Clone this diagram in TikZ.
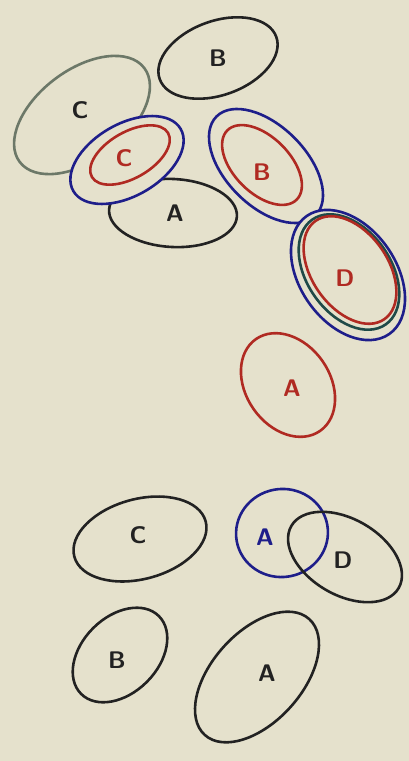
\documentclass[tikz,border=0pt]{standalone}
\usepackage{tikz}

\definecolor{paper}{HTML}{E5E1CC}
\definecolor{pencil}{HTML}{222222}
\definecolor{grayink}{HTML}{6C7868}
\definecolor{blueink}{HTML}{1E1E8A}
\definecolor{redink}{HTML}{B02A22}
\definecolor{tealink}{HTML}{1F4A48}

\begin{document}
\begin{tikzpicture}[
      x=1pt, y=-1pt,
      loop/.style={line width=2.6pt},
      blackloop/.style={loop, draw=pencil},
      grayloop/.style={loop, draw=grayink},
      blueloop/.style={loop, draw=blueink, fill=paper},
      redloop/.style={loop, draw=redink},
      letter/.style={font=\sffamily\bfseries\fontsize{24}{28}\selectfont, inner sep=0pt}
    ]
    \fill[paper] (0,0) rectangle (409,761);
    \useasboundingbox (0,0) rectangle (409,761);

    % top group
    \draw[grayloop, rotate around={37:(82,115)}] (82,115) ellipse [x radius=78, y radius=45];
    \draw[blackloop, rotate around={20:(218,58)}] (218,58) ellipse [x radius=62, y radius=37];
    \draw[blackloop, rotate around={-3:(173,213)}] (173,213) ellipse [x radius=64, y radius=34];

    \draw[blueloop, rotate around={30:(127,160)}] (127,160) ellipse [x radius=62, y radius=36];
    \draw[redloop, rotate around={30:(130,155)}] (130,155) ellipse [x radius=44, y radius=23];

    \draw[blueloop, rotate around={-45:(266,166)}] (266,166) ellipse [x radius=70, y radius=40];
    \draw[redloop, rotate around={-45:(262,165)}] (262,165) ellipse [x radius=49, y radius=28];

    \draw[blueloop, rotate around={-55:(348,275)}] (348,275) ellipse [x radius=72, y radius=48];
    \draw[loop, draw=tealink, rotate around={-55:(349,272)}] (349,272) ellipse [x radius=64, y radius=42];
    \draw[redloop, rotate around={-55:(350,270)}] (350,270) ellipse [x radius=60, y radius=38];

    \draw[redloop, rotate around={-55:(288,385)}] (288,385) ellipse [x radius=56, y radius=42];

    \node[letter, text=pencil] (topb) at (218,58) {B};
    \node[letter, text=pencil] (topc) at (80,110) {C};
    \node[letter, text=redink] (redc) at (124,158) {C};
    \node[letter, text=pencil] (topa) at (175,213) {A};
    \node[letter, text=redink] (redb) at (262,172) {B};
    \node[letter, text=redink] (redd) at (345,278) {D};
    \node[letter, text=redink] (reda) at (292,388) {A};

    % bottom group
    \draw[blackloop, rotate around={15:(140,539)}] (140,539) ellipse [x radius=68, y radius=40];
    \draw[loop, draw=blueink, rotate around={10:(282,533)}] (282,533) ellipse [x radius=46, y radius=44];
    \draw[blackloop, rotate around={-30:(345,557)}] (345,557) ellipse [x radius=62, y radius=38];
    \draw[blackloop, rotate around={45:(120,655)}] (120,655) ellipse [x radius=55, y radius=38];
    \draw[blackloop, rotate around={48:(257,677)}] (257,677) ellipse [x radius=78, y radius=45];

    \node[letter, text=pencil] (lowc) at (138,535) {C};
    \node[letter, text=blueink] (bluea) at (265,537) {A};
    \node[letter, text=pencil] (lowd) at (343,560) {D};
    \node[letter, text=pencil] (lowb) at (117,660) {B};
    \node[letter, text=pencil] (lowa) at (267,673) {A};
  \end{tikzpicture}
\end{document}
